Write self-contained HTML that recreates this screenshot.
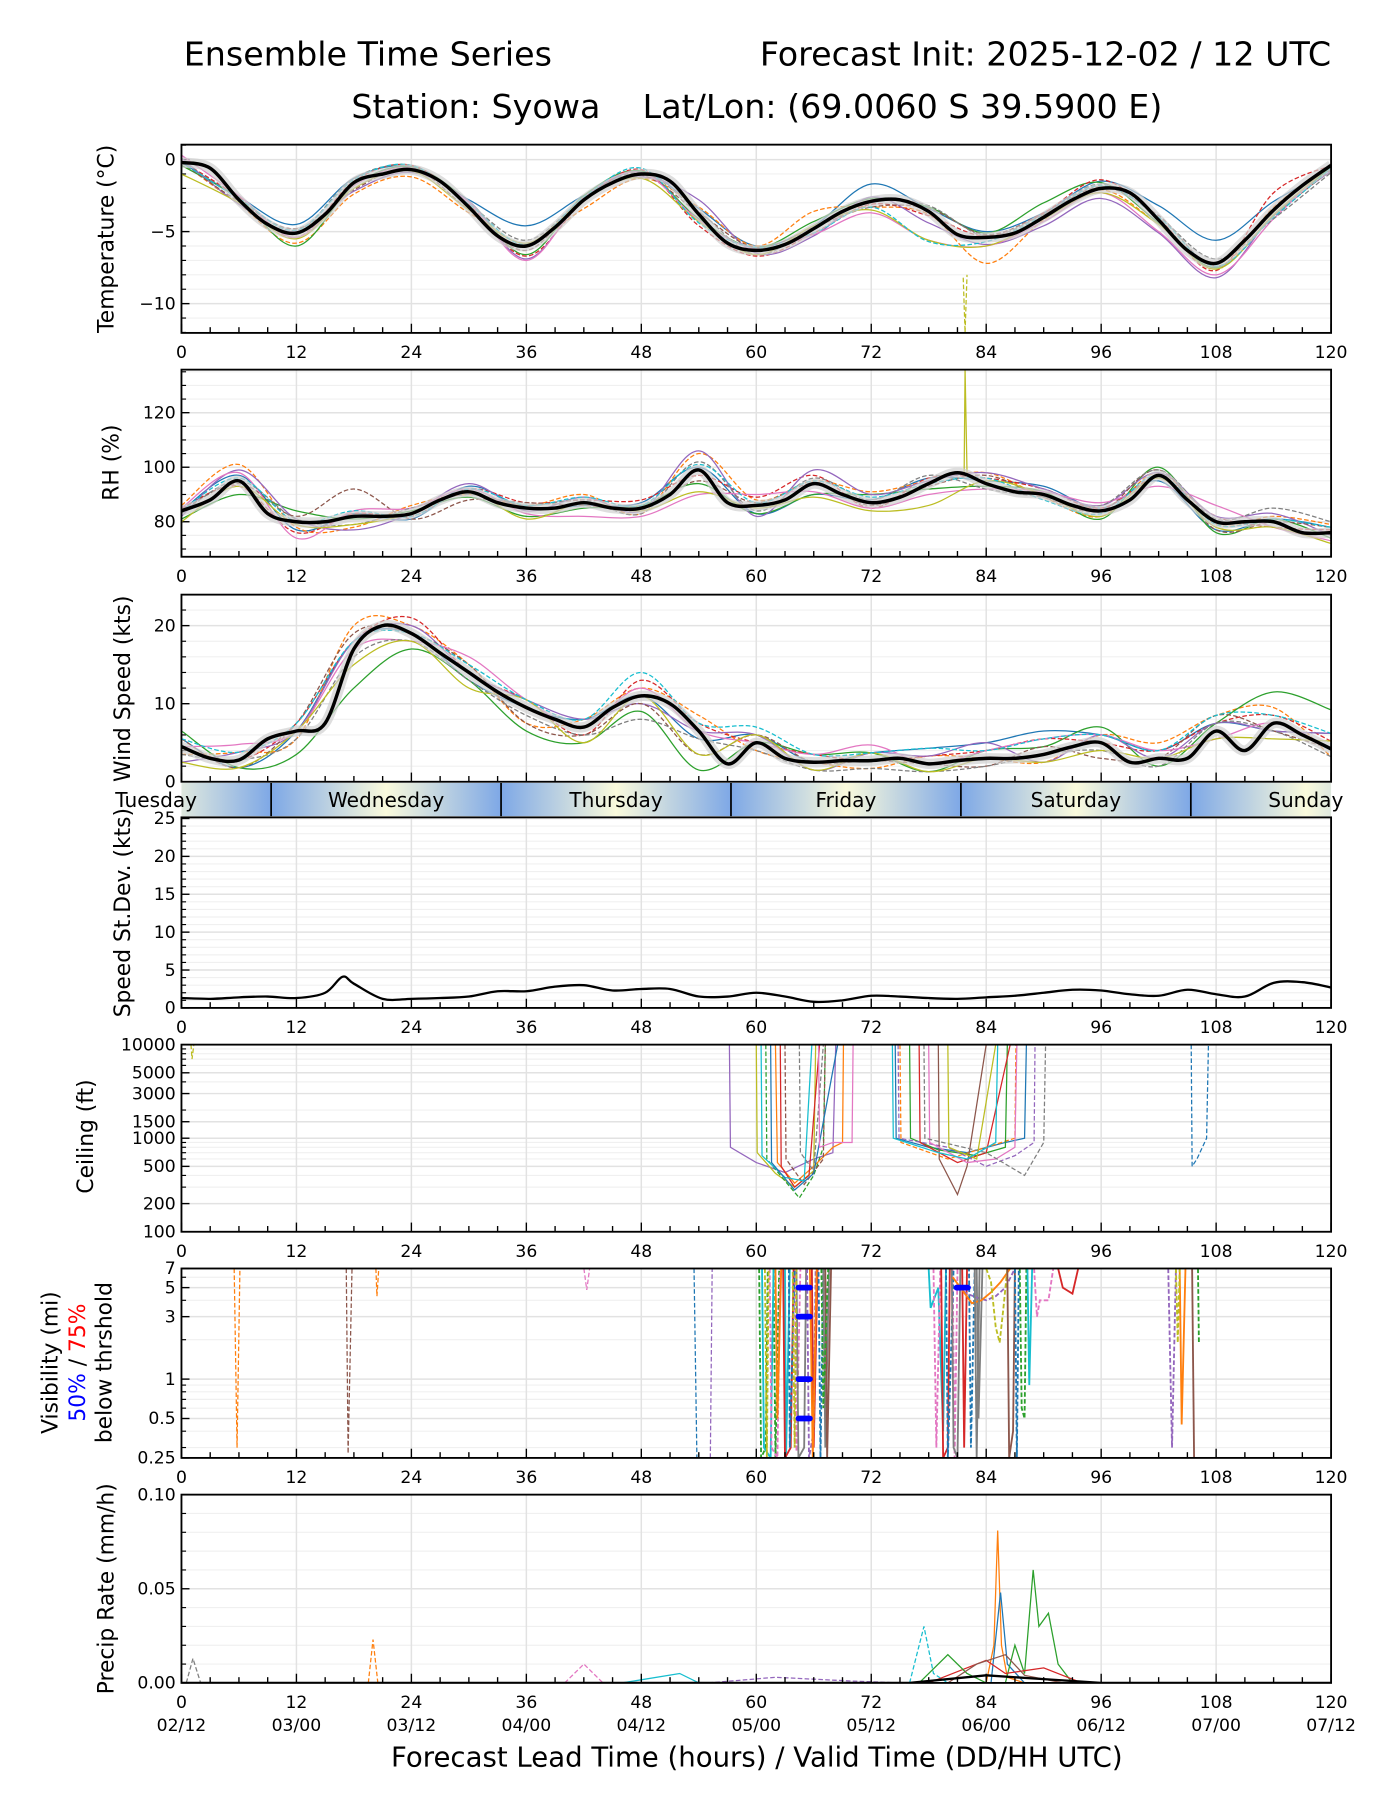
<!DOCTYPE html>
<html><head><meta charset="utf-8"><style>
html,body{margin:0;padding:0;background:#fff;}
svg{display:block;font-family:"DejaVu Sans","Liberation Sans",sans-serif;}
</style></head><body>
<svg id="chart" width="1400" height="1800" viewBox="0 0 1219 1568" preserveAspectRatio="none" xmlns="http://www.w3.org/2000/svg">
<defs>
<linearGradient id="dayg" x1="0" x2="1" y1="0" y2="0">
<stop offset="0" stop-color="#7ea8e6"/><stop offset="0.5" stop-color="#fafadc"/><stop offset="1" stop-color="#7ea8e6"/>
</linearGradient>
<clipPath id="bandclip"><rect x="158" y="682" width="1001" height="29"/></clipPath>
</defs>
<text x="160" y="57" font-size="29">Ensemble Time Series</text>
<text x="1159" y="57" font-size="29" text-anchor="end">Forecast Init: 2025-12-02 / 12 UTC</text>
<text x="659" y="103" font-size="29" text-anchor="middle" xml:space="preserve">Station: Syowa    Lat/Lon: (69.0060 S 39.5900 E)</text>
<text x="659" y="1539" font-size="24" text-anchor="middle">Forecast Lead Time (hours) / Valid Time (DD/HH UTC)</text>
<g id="plots"></g>
</svg>
<script>
// ---------- DATA ----------
const hours3 = [0,3,6,9,12,15,18,21,24,27,30,33,36,39,42,45,48,51,54,57,60,63,66,69,72,75,78,81,84,87,90,93,96,99,102,105,108,111,114,117,120];
const hours6 = [0,6,12,18,24,30,36,42,48,54,60,66,72,78,84,90,96,102,108,114,120];
const tempMean = [-0.2,-0.6,-2.8,-4.5,-5.1,-3.8,-1.6,-1.0,-0.7,-1.5,-3.3,-5.3,-6.0,-4.7,-2.8,-1.6,-1.0,-1.5,-3.8,-5.8,-6.3,-5.9,-4.8,-3.6,-2.9,-2.8,-3.6,-5.2,-5.4,-5.1,-4.0,-2.8,-2.0,-2.3,-4.2,-6.3,-7.2,-5.6,-3.5,-1.8,-0.4];
const tempDev = [
[0,0.2,0.6,0.3,0.2,0.5,1.4,0.3,0.2,0.4,0.3,0.2,1.2,0.2,0.4,0.3,0.5,1.0,1.6,0.6,-0.3],
[0,-0.3,-0.7,-0.8,-0.5,-0.4,0.2,-0.6,-0.3,0.5,0.3,1.2,-0.4,-0.2,-1.8,-0.2,-0.1,-0.3,-0.3,0.2,0.1],
[-0.2,0.1,-0.9,-0.2,0.2,0.4,-0.6,0.3,0.2,-0.3,0.2,0.5,0.2,0.3,0.3,1.0,0.4,-0.2,-0.3,-0.4,-0.1],
[0.1,0.2,-0.3,0.1,0.3,0.2,-0.7,-0.1,0.3,-0.8,-0.4,-0.3,-0.2,-0.3,0.1,0.3,0.6,0.1,-0.5,1.2,0.0],
[0.3,-0.3,0.1,-0.6,-0.2,0.4,-0.9,0.1,-0.2,1.0,-0.2,-0.5,0.3,-0.8,-0.5,-0.6,-0.7,-0.9,-1.0,-0.3,-0.4],
[0,-0.1,0.3,-0.5,0.1,-0.2,-0.3,0.2,-0.1,0.1,0.2,0.1,-0.4,0.2,0.2,0.2,0.1,0.3,-0.2,-0.4,-0.3],
[0.5,0.3,-0.3,-0.2,0.1,0.3,-1.0,0.2,0.1,-0.4,0.1,-0.4,-0.8,-2.0,-0.6,-0.3,-0.3,-0.8,-0.8,-0.6,0.1],
[0.1,0.1,0.2,0.3,0.2,0.2,0.4,0.1,0.1,0.2,-0.3,0.2,0.1,0.4,0.1,0.2,0.3,0.2,0.3,-0.6,-0.5],
[-0.8,-0.2,-0.4,-0.4,-0.1,-0.2,0.2,0.0,-0.3,-0.5,-0.3,0.2,-0.6,-2.0,-0.6,-0.1,-0.3,-0.3,-0.4,-0.3,0.0],
[0,0.1,0.2,0.2,0.3,0.2,0.1,0.2,0.4,-0.6,0.2,-0.3,-0.4,-2.1,-0.3,0.1,0.2,0.2,-0.2,-0.5,-0.2]];
const tempSpike = [[81.6,-8.2],[81.8,-12.0],[82.0,-8.0]];
const rhMean = [84,88,95,83,80,80,82,82,83,88,91,87,85,85,87,85,85,90,99,87,86,88,94,90,87,89,94,98,94,91,90,86,84,88,97,88,80,80,80,76,76];
const rhDev = [
[0,2,-3,1,-2,2,0,-1,2,1,-3,-4,1,2,1,3,1,-2,-3,1,2],
[2,6,-2,-4,3,-1,1,3,-2,6,2,1,4,1,4,-1,-2,1,-1,2,3],
[-3,-5,4,-1,1,-2,-3,-2,1,-5,-3,-4,3,-2,-1,1,-3,3,-4,1,-2],
[1,-2,-4,1,-1,1,2,1,3,-2,3,3,-2,2,2,2,1,-1,2,-2,1],
[-2,4,1,-5,0,3,-1,2,-1,7,-4,5,3,1,4,2,2,1,2,3,-1],
[0,-1,2,10,-2,-3,2,-1,0,-4,1,0,-1,-1,3,-1,0,2,-3,0,2],
[1,3,-6,2,2,1,-2,-5,-3,-9,4,-3,-2,-4,-2,1,3,-4,6,-2,-3],
[-1,0,1,-3,2,-1,1,1,-2,3,-2,2,1,3,-2,-1,2,2,1,5,4],
[-4,-2,-1,-3,0,0,-4,0,-1,-8,-1,-5,-3,-8,1,0,-2,-1,-2,-2,-4],
[0,1,0,2,-1,1,1,2,1,2,1,1,2,0,2,-2,-1,0,-1,1,2]];
const rhSpike = [[81.7,98],[81.8,136],[82.0,98]];
const windMean = [4.5,3,2.8,5.5,6.5,7.5,17,20,19,16.5,14,11.5,9.5,8,7,9.5,11,10,6.5,2.3,5,3,2.5,2.7,2.7,3,2.3,2.7,3,3,3.5,4.5,5,2.5,3,3,6.5,4,7.5,6,4.2];
const windDev = [
[1,-1,0,1,0,-1,0,1,0,-1,1,0,1,2,2,3,1,1,1,-1,2],
[-1,1,-1,3,1,1,-2,1,1,2,-1,0,-1,1,0,-1,1,2,2,2,-1],
[2,-1,-3,-5,-2,-1,-3,-2,-2,-5,0,1,1,-1,1,1,2,-1,1,4,5],
[0,0,1,1,2,0,1,-1,2,1,0,1,0,1,1,2,0,1,1,1,1],
[-2,1,0,1,1,0,1,1,-1,0,1,-1,1,1,2,-1,1,0,1,-1,2],
[1,-1,1,2,0,1,-2,-1,-1,-3,1,0,0,0,-1,1,-2,0,2,-1,0],
[0,2,0,0,-1,2,1,0,1,0,0,1,2,0,1,2,1,1,-1,0,0],
[-1,0,-1,-1,-1,-1,-1,-1,-3,-1,-1,-1,-1,-1,-1,0,-1,-1,1,-1,-1],
[-2,-1,0,-2,-1,-2,1,-2,0,-3,1,-1,1,-1,0,-1,-1,0,-1,-2,1],
[1,1,1,1,0,1,1,1,3,1,2,1,1,2,1,2,1,1,2,1,2]];
const sdMean = [1.3,1.2,1.4,1.5,1.3,2.0,3.2,1.2,1.2,1.3,1.5,2.2,2.2,2.8,3.0,2.3,2.5,2.5,1.5,1.5,2.0,1.5,0.8,1.0,1.6,1.5,1.3,1.2,1.4,1.6,2.0,2.4,2.3,1.8,1.6,2.4,1.8,1.5,3.3,3.4,2.7];
const sdPeak = [[16.8,4.1]];
const ceilMembers = [
[[1,10000],[1.1,7000],[1.3,10000]],
[[57.2,10000],[57.3,800],[60,550],[63,430],[66,600],[68,700],[68.3,10000]],
[[60,10000],[60.1,700],[62,420],[64,300],[66,450],[66.2,10000]],
[[61,10000],[61.1,600],[63,350],[64.5,230],[66,400],[67,800],[67.2,10000]],
[[62,10000],[62.2,550],[64,330],[66,500],[68,800],[69,900],[69.1,10000]],
[[62.5,10000],[62.6,500],[64,300],[65.5,400],[66.6,10000]],
[[63,10000],[63.1,600],[65,320],[67,600],[67.2,10000]],
[[60.5,10000],[60.6,650],[63,380],[65,350],[65.8,10000]],
[[61.5,10000],[61.6,550],[64,280],[66,420],[68.5,10000]],
[[64.5,10000],[64.6,700],[66,450],[67,10000]],
[[66.5,10000],[66.6,800],[68,900],[70,900],[70.1,10000]],
[[74.5,10000],[74.6,1000],[78,800],[82,700],[86,900],[88,1000],[88.2,10000]],
[[75,10000],[75.1,900],[80,600],[84,800],[87,1000],[87.1,10000]],
[[76,10000],[76.1,1000],[79,750],[83,650],[86,800],[86.2,10000]],
[[77,10000],[77.1,900],[81,550],[84,700],[86.5,10000]],
[[74.8,10000],[74.9,1000],[80,800],[84,500],[87,650],[89,900],[89.1,10000]],
[[79,10000],[79.1,600],[81,250],[82,500],[84,10000]],
[[78,10000],[78.1,900],[82,550],[85,600],[87,800],[87.2,10000]],
[[77.5,10000],[77.6,1000],[84,700],[88,400],[90,900],[90.2,10000]],
[[80,10000],[80.1,800],[83,600],[85,10000]],
[[74.2,10000],[74.3,1000],[79,700],[82,600],[85,900],[85.2,10000]],
[[105.4,10000],[105.5,500],[106,600],[107,1000],[107.2,10000]]];
const visMembers = [
[[5.5,7],[5.8,0.3],[6.1,7]],
[[17.2,7],[17.4,0.27],[17.8,7]],
[[20.3,7],[20.4,4.3],[20.6,7]],
[[42,7],[42.3,4.8],[42.6,7]],
[[53.5,7],[53.8,0.25]],
[[55.2,0.25],[55.4,7]],
[[60.3,7],[60.5,0.25],[61,0.3],[61.2,7],[61.8,7],[62,0.25],[62.4,7]],
[[60.6,7],[60.8,0.3],[61.5,0.25],[61.8,7],[63,7],[63.1,0.25],[63.5,7]],
[[61.4,7],[61.6,0.3],[62.2,0.25],[62.5,7],[64,7],[64.2,0.28],[64.6,7]],
[[62.8,7],[63,0.25],[63.6,0.3],[63.9,7],[65.8,7],[66,0.3],[66.4,7]],
[[63.4,7],[63.5,0.3],[64,7],[66.5,7],[66.7,0.25],[67,7]],
[[64.2,7],[64.4,0.25],[65,0.3],[65.2,7],[67,7],[67.2,0.3],[67.6,7]],
[[65.3,7],[65.5,0.25],[66,0.4],[66.2,7]],
[[62,7],[62.2,0.5],[62.6,7],[65.6,7],[65.9,0.25],[66.3,7]],
[[60.9,7],[61.1,0.25],[61.3,7],[63.8,7],[64,0.3],[64.2,7]],
[[67.2,7],[67.4,0.25],[67.8,7]],
[[66.8,7],[67,0.6],[67.5,7]],
[[78,7],[78.2,3.5],[79,5],[79.5,0.4],[79.8,7]],
[[78.5,7],[78.8,0.3],[79.2,7],[80.5,7],[80.7,0.25],[81,7]],
[[79.3,7],[79.5,0.25],[80,0.3],[80.2,7],[81.5,7],[81.7,0.3],[82,7]],
[[79.8,7],[80,0.25],[80.6,7],[82.2,7],[82.4,0.3],[82.8,7]],
[[80.4,7],[80.6,0.3],[81,0.25],[81.3,7],[83,7],[83.2,0.5],[83.6,7]],
[[81,5],[82,4.5],[83,4.2],[84,4],[85,4.3],[86,5],[87,7]],
[[80.5,6],[81.5,4.8],[82.5,3.8],[83.5,4],[84.5,4.6],[85.5,5.5],[86.5,7]],
[[84,7],[84.5,5.5],[85,2.5],[85.4,1.9],[85.8,3.5],[86.2,7]],
[[86.2,7],[86.4,0.25],[86.8,0.4],[87,7]],
[[87.5,7],[87.7,0.6],[88,0.5],[88.2,7]],
[[88.3,7],[88.5,0.9],[88.8,7]],
[[89,7],[89.3,3],[89.6,4],[90.5,4],[91,7]],
[[91.5,7],[92,5],[93,4.5],[93.6,7]],
[[87,7],[87.2,0.25],[87.4,7]],
[[82.8,7],[83,0.25],[83.3,7]],
[[103,7],[103.4,0.3],[103.8,7]],
[[104.2,7],[104.4,0.45],[104.8,7]],
[[103.8,7],[104,1.9],[104.2,7]],
[[105.5,7],[105.7,0.25]],
[[106.1,7],[106.2,1.9]]];
const vis50 = [[65,5],[65,3],[65,1],[65,0.5],[81.5,5]];
const precipMembers = [
[[84,0],[84.8,0.02],[85.2,0.081],[85.6,0.02],[86.2,0.003],[88,0]],
[[84.5,0],[85.5,0.048],[86.2,0.01],[88,0]],
[[86,0],[87,0.02],[88,0.005],[88.9,0.06],[89.5,0.03],[90.5,0.037],[91.5,0.01],[93,0]],
[[76,0],[77.5,0.03],[78.5,0.005],[80,0]],
[[19.5,0],[20,0.023],[20.5,0]],
[[0.5,0],[1.2,0.013],[2,0]],
[[40,0],[42,0.01],[44,0]],
[[55,0],[62,0.003],[70,0.001],[75,0]],
[[78,0],[84,0.012],[86,0.005],[90,0.008],[94,0]],
[[77,0],[80,0.015],[82,0.005],[84,0]],
[[80,0],[83,0.01],[86,0.015],[88,0.004],[92,0]],
[[46,0],[52,0.005],[54,0]]];
const precipMean = [[0,0],[76,0],[84,0.004],[90,0.002],[96,0],[120,0]];
const xTicks = [0,12,24,36,48,60,72,84,96,108,120];
const dateLabels = ["02/12","03/00","03/12","04/00","04/12","05/00","05/12","06/00","06/12","07/00","07/12"];
const dayNames = ["Tuesday","Wednesday","Thursday","Friday","Saturday","Sunday"];
const dayStarts = [-14.64,9.36,33.36,57.36,81.36,105.36];
const colors = ["#1f77b4","#ff7f0e","#2ca02c","#d62728","#9467bd","#8c564b","#e377c2","#7f7f7f","#bcbd22","#17becf"];

// ---------- RENDER ----------
const NS="http://www.w3.org/2000/svg";
const root=document.getElementById('plots');
const X0=158,X1=1159;
const xs=h=>X0+h*(X1-X0)/120;
function mk(tag,attrs,parent){const e=document.createElementNS(NS,tag);for(const k in attrs)e.setAttribute(k,attrs[k]);(parent||root).appendChild(e);return e;}
function smooth(pts){let d='M'+pts[0][0].toFixed(1)+','+pts[0][1].toFixed(1);
 for(let i=0;i<pts.length-1;i++){const p0=pts[i-1]||pts[i],p1=pts[i],p2=pts[i+1],p3=pts[i+2]||p2;
  const c1=[p1[0]+(p2[0]-p0[0])/6,p1[1]+(p2[1]-p0[1])/6],c2=[p2[0]-(p3[0]-p1[0])/6,p2[1]-(p3[1]-p1[1])/6];
  d+=' C'+c1[0].toFixed(1)+','+c1[1].toFixed(1)+' '+c2[0].toFixed(1)+','+c2[1].toFixed(1)+' '+p2[0].toFixed(1)+','+p2[1].toFixed(1);}
 return d;}
function lin(pts){return 'M'+pts.map(p=>p[0].toFixed(1)+','+p[1].toFixed(1)).join(' L');}

function panel(name,top,bot,ys,yticks,ylabels,minor){
 const g=mk('g',{});
 const cid='clip-'+name;const cp=mk('clipPath',{id:cid},g);mk('rect',{x:X0,y:top,width:X1-X0,height:bot-top},cp);
 minor.forEach(v=>{const y=ys(v);if(y>=top&&y<=bot){const l=mk('line',{x1:X0,x2:X1,y1:y,y2:y,stroke:'#f0f0f0','stroke-width':1},g);}});
 xTicks.forEach(h=>{const l=mk('line',{x1:xs(h),x2:xs(h),y1:top,y2:bot,stroke:'#e2e2e2','stroke-width':1.3},g);});
 yticks.forEach((v,i)=>{const y=ys(v);const l=mk('line',{x1:X0,x2:X1,y1:y,y2:y,stroke:'#e2e2e2','stroke-width':1.3},g);
  mk('line',{x1:X0,x2:X0+7,y1:y,y2:y,stroke:'#000','stroke-width':1.2},g);
  const t=mk('text',{x:X0-5,y:y+5,'font-size':15,'text-anchor':'end'},g);t.textContent=ylabels[i];});
 minor.forEach(v=>{const y=ys(v);if(y>top&&y<bot)mk('line',{x1:X0,x2:X0+4,y1:y,y2:y,stroke:'#000','stroke-width':1},g);});
 const data=mk('g',{'clip-path':'url(#'+cid+')'},g);
 for(let h=0;h<=120;h+=3){const major=h%12===0;mk('line',{x1:xs(h),x2:xs(h),y1:bot,y2:bot-(major?8:5),stroke:'#000','stroke-width':1.2},g);}
 const fr=mk('rect',{x:X0,y:top,width:X1-X0,height:bot-top,fill:'none',stroke:'#000','stroke-width':1.6},g);
 return {g,data,top,bot,ys};
}
function xlabels(bot,withDates){xTicks.forEach((h,i)=>{const t=mk('text',{x:xs(h),y:bot+22,'font-size':15,'text-anchor':'middle'});t.textContent=h;
 if(withDates){const d=mk('text',{x:xs(h),y:bot+42,'font-size':15,'text-anchor':'middle'});d.textContent=dateLabels[i];}});}
function ylab(lines,x,y){const t=mk('text',{transform:'translate('+x+','+y+') rotate(-90)','font-size':19,'text-anchor':'middle'});t.textContent=lines;return t;}
function members(p,devs,mean){devs.forEach((dv,k)=>{const pts=hours6.map((h,i)=>[xs(h),p.ys(Math.max(p.min,mean[2*i]+dv[i]))]);
 const e=mk('path',{d:smooth(pts),fill:'none',stroke:colors[k],'stroke-width':1.1,'stroke-dasharray':k%2?'4,2':'none'},p.data);});}
function meanLine(p,mean){const pts=hours3.map((h,i)=>[xs(h),p.ys(mean[i])]);
 const band=mk('path',{d:smooth(pts),fill:'none',stroke:'#d0d0d0','stroke-width':9,'stroke-opacity':0.7},p.data);
 const e=mk('path',{d:smooth(pts),fill:'none',stroke:'#000','stroke-width':3},p.data);}

// Temperature
const yT=v=>139+(0-v)*12.55;
const pT=panel('temperature',126,290,yT,[0,-5,-10],['0','\u22125','\u221210'],[1,-1,-2,-3,-4,-6,-7,-8,-9,-11,-12]);pT.min=-20;
members(pT,tempDev,tempMean);
{const e=mk('path',{d:lin(tempSpike.map(p=>[xs(p[0]),yT(p[1])])),fill:'none',stroke:colors[8],'stroke-width':1.1,'stroke-dasharray':'4,2'},pT.data);}
meanLine(pT,tempMean);xlabels(290,false);ylab('Temperature (\u00B0C)',99,208);

// RH
const yR=v=>407-(v-100)*2.375;
const pR=panel('rh',322,485,yR,[80,100,120],['80','100','120'],[70,75,85,90,95,105,110,115,125,130,135]);pR.min=0;
members(pR,rhDev,rhMean);
{const e=mk('path',{d:lin(rhSpike.map(p=>[xs(p[0]),yR(p[1])])),fill:'none',stroke:colors[8],'stroke-width':1.1},pR.data);}
meanLine(pR,rhMean);xlabels(485,false);ylab('RH (%)',103,403);

// Wind
const yW=v=>681-v*6.8;
const pW=panel('wind',518,681,yW,[0,10,20],['0','10','20'],[2,4,6,8,12,14,16,18,22,24]);pW.min=0;
members(pW,windDev,windMean);meanLine(pW,windMean);ylab('Wind Speed (kts)',113,600);

// Day band
{const g=mk('g',{'clip-path':'url(#bandclip)'});
 dayStarts.forEach((s,i)=>{const r=mk('rect',{x:xs(s),y:682,width:xs(24)-xs(0),height:29,fill:'url(#dayg)'},g);
  if(s>0){mk('line',{x1:xs(s),x2:xs(s),y1:682,y2:711,stroke:'#000','stroke-width':1.5},g);}});
 dayStarts.forEach((s,i)=>{const t=mk('text',{x:xs(s+12),y:703,'font-size':17.5,'text-anchor':'middle'});t.textContent=dayNames[i];});}

// Stdev
const yS=v=>878-v*6.6;
const pS=panel('speed-stdev',712,878,yS,[0,5,10,15,20,25],['0','5','10','15','20','25'],[1,2,3,4,6,7,8,9,11,12,13,14,16,17,18,19,21,22,23,24]);
{const pts=hours3.map((h,i)=>[h,sdMean[i]]).concat(sdPeak).sort((a,b)=>a[0]-b[0]).map(p=>[xs(p[0]),yS(p[1])]);
 const e=mk('path',{d:smooth(pts),fill:'none',stroke:'#000','stroke-width':2},pS.data);}
xlabels(878,false);ylab('Speed St.Dev. (kts)',113,795);

// Ceiling
const yC=v=>1073-(Math.log10(v)-2)/2*163;
const pC=panel('ceiling',910,1073,yC,[100,200,500,1000,1500,3000,5000,10000],['100','200','500','1000','1500','3000','5000','10000'],[300,400,600,700,800,900,2000,4000,6000,7000,8000,9000]);
const ceilColors=[8,4,8,2,1,3,5,9,0,7,6,0,1,2,3,4,5,6,7,8,9,0];
ceilMembers.forEach((m,k)=>{const e=mk('path',{d:lin(m.map(p=>[xs(p[0]),yC(p[1])])),fill:'none',stroke:colors[ceilColors[k]],'stroke-width':1.1,'stroke-dasharray':(k===0||k%3===0)?'4,2':'none'},pC.data);});
xlabels(1073,false);ylab('Ceiling (ft)',81,990);

// Visibility
const yV=v=>1270-Math.log(v/0.25)/Math.log(28)*165;
const pV=panel('visibility',1105,1270,yV,[0.25,0.5,1,3,5,7],['0.25','0.5','1','3','5','7'],[0.3,0.4,0.6,0.7,0.8,0.9,2,4,6]);
const visColors=[1,5,1,6,0,4];
visMembers.forEach((m,k)=>{const c=k<6?visColors[k]:(k*7)%10;const e=mk('path',{d:lin(m.map(p=>[xs(p[0]),yV(p[1])])),fill:'none',stroke:colors[c],'stroke-width':k>5?1.6:1.1,'stroke-dasharray':(k<4||k===5||k%2===0)?'4,2':'none'},pV.data);});
vis50.forEach(p=>{const e=mk('line',{x1:xs(p[0])-5,x2:xs(p[0])+5,y1:yV(p[1]),y2:yV(p[1]),stroke:'#0000ff','stroke-width':5,'stroke-linecap':'round'},pV.data);});
xlabels(1270,false);
{const t=mk('text',{transform:'translate(50,1187) rotate(-90)','font-size':19,'text-anchor':'middle'});t.textContent='Visibility (mi)';
 const t2=mk('text',{transform:'translate(74,1187) rotate(-90)','font-size':19,'text-anchor':'middle'});
 const a=mk('tspan',{fill:'#0000ff'},t2);a.textContent='50%';const b=mk('tspan',{fill:'#000'},t2);b.textContent=' / ';const c=mk('tspan',{fill:'#ff0000'},t2);c.textContent='75%';
 const t3=mk('text',{transform:'translate(97,1187) rotate(-90)','font-size':19,'text-anchor':'middle'});t3.textContent='below thrshold';}

// Precip
const yP=v=>1466-v/0.1*164;
const pP=panel('precip',1302,1466,yP,[0,0.05,0.1],['0.00','0.05','0.10'],[0.01,0.02,0.03,0.04,0.06,0.07,0.08,0.09]);
const precipColors=[1,0,2,9,1,7,6,4,3,2,5,9];
precipMembers.forEach((m,k)=>{const e=mk('path',{d:lin(m.map(p=>[xs(p[0]),yP(p[1])])),fill:'none',stroke:colors[precipColors[k]],'stroke-width':1.1,'stroke-dasharray':[3,4,5,6,7].includes(k)?'4,2':'none'},pP.data);});
{const e=mk('path',{d:lin(precipMean.map(p=>[xs(p[0]),yP(p[1])])),fill:'none',stroke:'#000','stroke-width':2},pP.data);}
xlabels(1466,true);ylab('Precip Rate (mm/h)',99,1384);
</script>
</body></html>
